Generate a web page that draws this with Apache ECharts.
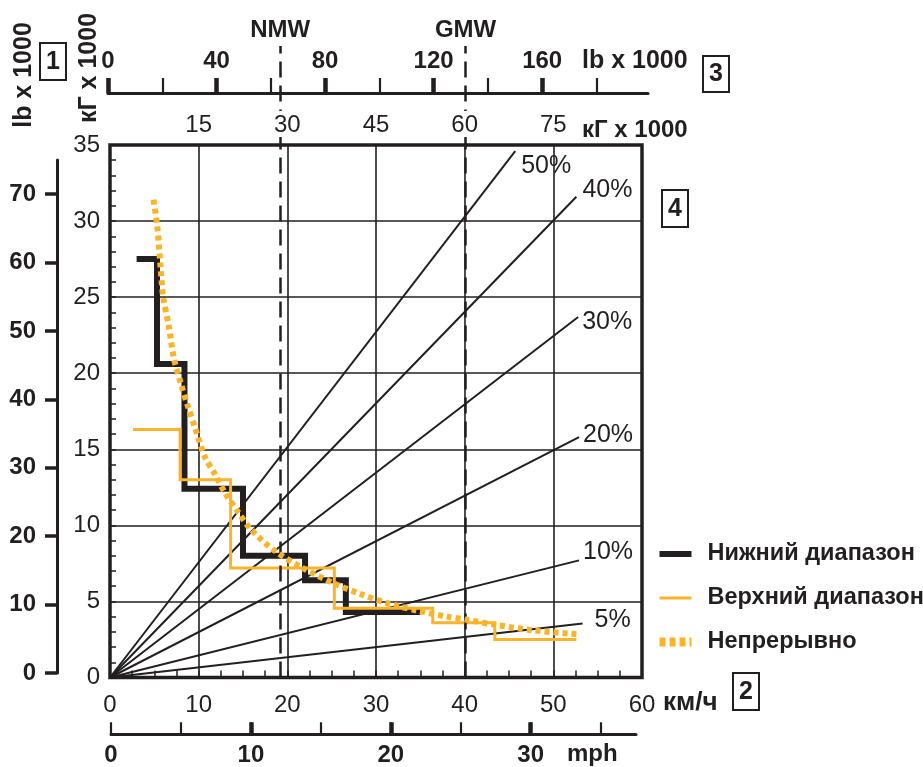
<!DOCTYPE html>
<html><head><meta charset="utf-8">
<script src="https://cdn.jsdelivr.net/npm/echarts@6/dist/echarts.min.js"></script>
<style>html,body{margin:0;padding:0;background:#fff}#c{width:923px;height:767px}</style>
</head><body><div id="c"></div>
<script>
// ---------- data ----------
const kgTickLabels = [15, 30, 45, 60, 75];
const lbTopLabels = [0, 40, 80, 120, 160];
const lbTopTicks = [0, 20, 40, 60, 80, 100, 120, 140, 160, 180];
const lbLeftLabels = [0, 10, 20, 30, 40, 50, 60, 70];
const mphLabels = [0, 10, 20, 30];
const mphTicks = [0, 5, 10, 15, 20, 25, 30, 35];
const refNames = ['NMW', 'GMW'];
const refKmh = [19.2, 40.1];

const lowX = [3.0, 5.3, 8.4, 15.0, 22.0, 26.6, 35.0];
const lowY = [27.5, 20.6, 12.4, 8.0, 6.4, 4.3, 4.3];
const upX = [2.6, 7.9, 13.6, 25.3, 36.4, 43.4, 52.6];
const upY = [16.3, 13.0, 7.2, 4.55, 3.6, 2.5, 2.5];
const contX = [4.9, 5.3, 5.7, 6.0, 6.6, 7.2, 8.0, 8.8, 9.6, 10.7, 11.9, 13.0, 14.3, 15.8, 18.4, 21.4, 25.2, 28.2, 31.2, 34.6, 38.0, 40.2, 43.6, 47.7, 52.6];
const contY = [31.4, 29.8, 27.0, 25.0, 23.2, 21.0, 19.3, 17.8, 16.4, 14.5, 13.3, 12.1, 11.0, 9.8, 8.4, 7.3, 6.2, 5.5, 4.9, 4.4, 4.0, 3.8, 3.45, 3.1, 2.85];
const gradeNames = ['50%', '40%', '30%', '20%', '10%', '5%'];
const gradeEndX = [45.7, 52.6, 52.8, 52.9, 52.9, 53.3];
const gradeEndY = [34.6, 31.6, 23.7, 15.8, 7.7, 3.55];

// ---------- styles ----------
const INK = '#231f20';
const ORANGE = '#fbb42a';
const FONT = '"Liberation Sans", Arial, Helvetica, sans-serif';
const gradeLabelOffset = [[2, 15], [2, -7], [0, 5], [0, -2], [0, -8], [8, -3]];

const pairs = (xs, ys) => xs.map((x, i) => [x, ys[i]]);
const chart = echarts.init(document.getElementById('c'));

const series = [];
gradeNames.forEach((g, i) => {
  series.push({
    type: 'line', name: 'grade ' + g, xAxisIndex: 0, yAxisIndex: 0,
    data: [[0, 0], [gradeEndX[i], gradeEndY[i]]],
    symbol: 'none', silent: true, z: 2, animation: false,
    lineStyle: { color: INK, width: 2 },
    endLabel: { show: true, formatter: g, fontSize: 25, color: INK, fontFamily: FONT, offset: gradeLabelOffset[i], distance: 4 }
  });
});
series.push({ type: 'line', name: 'Нижний диапазон', xAxisIndex: 0, yAxisIndex: 0, data: pairs(lowX, lowY), step: 'end', symbol: 'none', z: 3, animation: false,
  lineStyle: { color: INK, width: 6, join: 'miter', cap: 'butt' }, itemStyle: { color: INK } });
series.push({ type: 'line', name: 'Верхний диапазон', xAxisIndex: 0, yAxisIndex: 0, data: pairs(upX, upY), step: 'end', symbol: 'none', z: 4, animation: false,
  lineStyle: { color: ORANGE, width: 3, join: 'miter' }, itemStyle: { color: ORANGE } });
series.push({ type: 'line', name: 'Непрерывно', xAxisIndex: 0, yAxisIndex: 0, data: pairs(contX, contY), smooth: 0.3, symbol: 'none', z: 5, animation: false,
  lineStyle: { color: ORANGE, width: 6, type: [5, 4], cap: 'butt' }, itemStyle: { color: ORANGE } });
series.push({ type: 'line', name: 'ref', xAxisIndex: 2, yAxisIndex: 1, data: refKmh.map(x => [x, 0]), symbol: 'none', silent: true, animation: false, z: 6,
  lineStyle: { opacity: 0, width: 0 },
  markLine: { symbol: ['none', 'none'], silent: true, animation: false, precision: 1,
    lineStyle: { type: [16, 8], width: 2.5, color: INK },
    label: { position: 'end', formatter: '{b}', fontSize: 24, fontWeight: 'bold', color: INK, fontFamily: FONT, distance: 4 },
    data: refNames.map((n, i) => ({ name: n, xAxis: refKmh[i] })) } });

const hiddenY = (g) => ({ gridIndex: g, type: 'value', show: false, min: 0, max: 1 });
const hiddenX = (g) => ({ gridIndex: g, type: 'value', show: false, min: 0, max: 1 });
const lbl = (extra) => Object.assign({ color: INK, fontFamily: FONT, fontSize: 24 }, extra);

const option = {
  backgroundColor: '#fff',
  animation: false,
  grid: [
    { left: 110, top: 145, width: 532, height: 532.5, show: true, borderWidth: 3.5, borderColor: INK, backgroundColor: 'transparent' },
    { left: 110, top: 46, width: 532, height: 631.5 },
    { left: 108, top: 93, width: 540, height: 1 },
    { left: 57, top: 160, width: 1, height: 513 },
    { left: 111, top: 734, width: 525, height: 1 }
  ],
  xAxis: [
    { gridIndex: 0, type: 'value', position: 'bottom', min: 0, max: 60, interval: 10,
      axisLine: { show: false, onZero: false },
      axisTick: { show: true, inside: true, length: 7, lineStyle: { color: INK, width: 1.5 } },
      minorTick: { show: true, splitNumber: 4, length: 7, lineStyle: { color: INK, width: 1.5 } },
      splitLine: { show: true, lineStyle: { color: INK, width: 1.6 } },
      axisLabel: lbl({ margin: 16 }) },
    { gridIndex: 0, type: 'value', position: 'top', min: 0, max: 90, z: 20,
      axisLine: { show: false, onZero: false }, axisTick: { show: false }, splitLine: { show: false },
      axisLabel: lbl({ margin: 8, customValues: kgTickLabels, backgroundColor: '#fff', padding: [2, 1, 0, 1] }) },
    { gridIndex: 1, type: 'value', show: false, min: 0, max: 60 },
    { gridIndex: 2, type: 'value', position: 'top', min: 0, max: 199,
      axisLine: { show: true, onZero: false, lineStyle: { color: INK, width: 3 } },
      axisTick: { show: true, length: 15, customValues: lbTopTicks, lineStyle: { color: INK, width: 2.2 } },
      axisLabel: { show: false }, splitLine: { show: false } },
    { gridIndex: 2, type: 'value', position: 'top', min: 0, max: 199,
      axisLine: { show: false, onZero: false },
      axisTick: { show: true, length: 15, customValues: lbTopLabels, lineStyle: { color: INK, width: 4.5 } },
      axisLabel: lbl({ fontWeight: 'bold', margin: 20, customValues: lbTopLabels }), splitLine: { show: false } },
    hiddenX(3),
    { gridIndex: 4, type: 'value', position: 'bottom', min: 0, max: 37.53,
      axisLine: { show: true, onZero: false, lineStyle: { color: INK, width: 3 } },
      axisTick: { show: true, inside: true, length: 12, customValues: mphTicks, lineStyle: { color: INK, width: 2.2 } },
      axisLabel: { show: false }, splitLine: { show: false } },
    { gridIndex: 4, type: 'value', position: 'bottom', min: 0, max: 37.53,
      axisLine: { show: false, onZero: false },
      axisTick: { show: true, inside: true, length: 12, customValues: [10, 20, 30], lineStyle: { color: INK, width: 4.5 } },
      axisLabel: lbl({ fontWeight: 'bold', margin: 9, customValues: mphLabels }), splitLine: { show: false } }
  ],
  yAxis: [
    { gridIndex: 0, type: 'value', min: 0, max: 35, interval: 5,
      axisLine: { show: false, onZero: false },
      axisTick: { show: true, inside: true, length: 6, lineStyle: { color: INK, width: 1.5 } },
      minorTick: { show: true, splitNumber: 5, length: 6, lineStyle: { color: INK, width: 1.5 } },
      splitLine: { show: true, lineStyle: { color: INK, width: 1.6 } },
      axisLabel: lbl({ margin: 10 }) },
    hiddenY(1),
    hiddenY(2),
    { gridIndex: 3, type: 'value', position: 'left', min: 0, max: 75,
      axisLine: { show: true, onZero: false, lineStyle: { color: INK, width: 3 } },
      axisTick: { show: true, length: 12, customValues: lbLeftLabels, lineStyle: { color: INK, width: 3.5 } },
      axisLabel: lbl({ fontWeight: 'bold', margin: 21, customValues: lbLeftLabels }), splitLine: { show: false } },
    hiddenY(4)
  ],
  legend: {
    data: [
      { name: 'Нижний диапазон', lineStyle: { width: 6, type: 'solid' } },
      { name: 'Верхний диапазон', lineStyle: { width: 3, type: 'solid' } },
      { name: 'Непрерывно', lineStyle: { width: 9, type: [6, 4], cap: 'butt' } }
    ],
    orient: 'vertical', left: 655, top: 542, padding: 0, itemWidth: 32, itemHeight: 22, itemGap: 20,
    selectedMode: false,
    itemStyle: { opacity: 0 },
    textStyle: { fontSize: 23.5, fontWeight: 'bold', color: INK, fontFamily: FONT, padding: [0, 0, 0, 11] }
  },
  graphic: [
    { type: 'text', x: 24, y: 75, rotation: Math.PI / 2, style: { text: 'lb x 1000', font: 'bold 25px ' + FONT, fill: INK, align: 'center', verticalAlign: 'middle' } },
    { type: 'text', x: 89, y: 68, rotation: Math.PI / 2, style: { text: 'кГ x 1000', font: 'bold 25px ' + FONT, fill: INK, align: 'center', verticalAlign: 'middle' } },
    { type: 'text', x: 582, y: 61, style: { text: 'lb x 1000', font: 'bold 25px ' + FONT, fill: INK, align: 'left', verticalAlign: 'middle' } },
    { type: 'text', x: 582, y: 130, style: { text: 'кГ x 1000', font: 'bold 24px ' + FONT, fill: INK, align: 'left', verticalAlign: 'middle' } },
    { type: 'text', x: 663, y: 703, style: { text: 'км/ч', font: 'bold 26px ' + FONT, fill: INK, align: 'left', verticalAlign: 'middle' } },
    { type: 'text', x: 567, y: 754, style: { text: 'mph', font: 'bold 24px ' + FONT, fill: INK, align: 'left', verticalAlign: 'middle' } },
    { type: 'rect', shape: { x: 40, y: 43, width: 26, height: 37 }, style: { fill: 'none', stroke: INK, lineWidth: 2 } },
    { type: 'text', x: 53, y: 62, style: { text: '1', font: 'bold 25px ' + FONT, fill: INK, align: 'center', verticalAlign: 'middle' } },
    { type: 'rect', shape: { x: 733, y: 673, width: 26, height: 37 }, style: { fill: 'none', stroke: INK, lineWidth: 2 } },
    { type: 'text', x: 746, y: 692, style: { text: '2', font: 'bold 25px ' + FONT, fill: INK, align: 'center', verticalAlign: 'middle' } },
    { type: 'rect', shape: { x: 703, y: 56, width: 26, height: 36 }, style: { fill: 'none', stroke: INK, lineWidth: 2 } },
    { type: 'text', x: 716, y: 74, style: { text: '3', font: 'bold 25px ' + FONT, fill: INK, align: 'center', verticalAlign: 'middle' } },
    { type: 'rect', shape: { x: 662, y: 190, width: 26, height: 37 }, style: { fill: 'none', stroke: INK, lineWidth: 2 } },
    { type: 'text', x: 675, y: 209, style: { text: '4', font: 'bold 25px ' + FONT, fill: INK, align: 'center', verticalAlign: 'middle' } }
  ],
  series: series
};
chart.setOption(option);
</script>
</body></html>
